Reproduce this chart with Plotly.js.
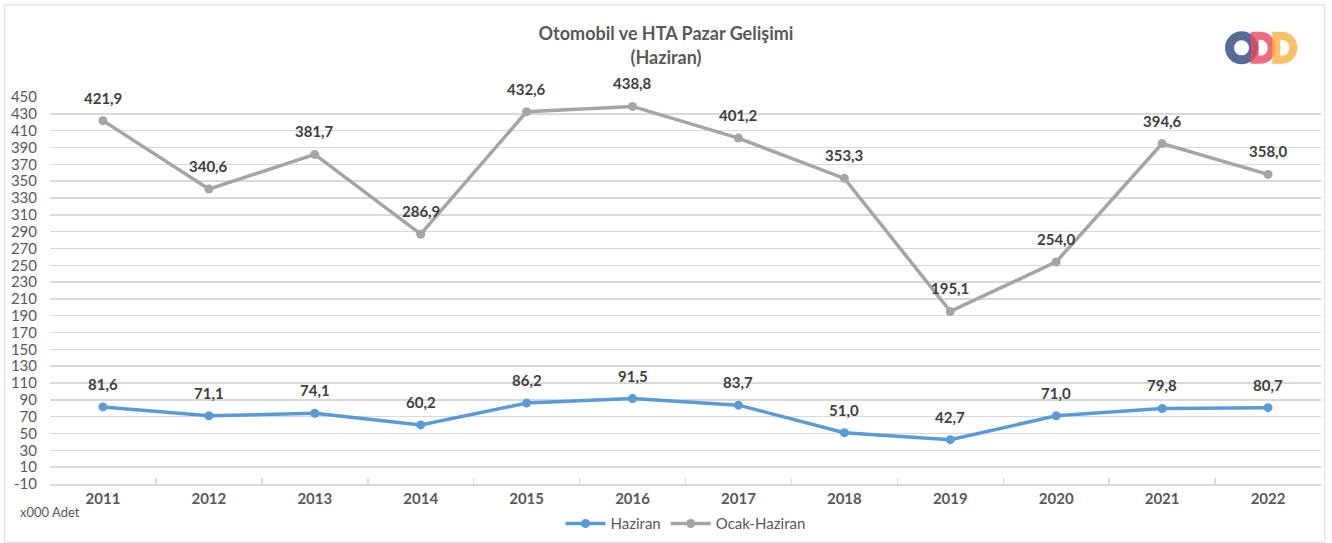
<!DOCTYPE html>
<html><head><meta charset="utf-8">
<script src="https://cdn.plot.ly/plotly-3.0.1.min.js"></script>
<style>html,body{margin:0;padding:0;background:#fff}#chart{width:1332px;height:543px}</style>
</head><body><div id="chart"></div>
<script>
const years = ['2011','2012','2013','2014','2015','2016','2017','2018','2019','2020','2021','2022'];
const haziran = [81.6, 71.1, 74.1, 60.2, 86.2, 91.5, 83.7, 51.0, 42.7, 71.0, 79.8, 80.7];
const ocakHaziran = [421.9, 340.6, 381.7, 286.9, 432.6, 438.8, 401.2, 353.3, 195.1, 254.0, 394.6, 358.0];
const yTicks = [-10,10,30,50,70,90,110,130,150,170,190,210,230,250,270,290,310,330,350,370,390,410,430,450];

const fontFam = 'Lato, "DejaVu Sans", sans-serif';
const fmt = v => v.toFixed(1).replace('.', ',');

const traces = [
  {x: years, y: haziran, name: 'Haziran', type: 'scatter', mode: 'lines+markers',
   line: {color: '#5b9bd5', width: 3.5}, marker: {color: '#5b9bd5', size: 9}},
  {x: years, y: ocakHaziran, name: 'Ocak-Haziran', type: 'scatter', mode: 'lines+markers',
   line: {color: '#a5a5a5', width: 3.5}, marker: {color: '#a5a5a5', size: 9}}
];

const annotations = [];
[haziran, ocakHaziran].forEach(arr => arr.forEach((v, i) => {
  annotations.push({x: i, y: v, xref: 'x', yref: 'y', text: fmt(v), showarrow: false,
    yshift: 23, font: {family: fontFam, size: 15, color: '#404040', weight: 'bold'}});
}));
annotations.push({x: -0.025, y: -0.072, xref: 'paper', yref: 'paper', xanchor: 'left', yanchor: 'middle',
  text: 'x000 Adet', showarrow: false, font: {family: fontFam, size: 13, color: '#595959'}});

const dPath = 'M -4,-12 L 1,-12 C 17,-12 17,12 1,12 L -4,12 Z';
const shapes = [
  {type: 'rect', xref: 'paper', yref: 'paper', x0: -0.036, x1: 1.003, y0: -0.15, y1: 1.238,
   line: {color: '#d9d9d9', width: 1}, fillcolor: 'rgba(0,0,0,0)', layer: 'below'},
  {type: 'circle', xref: 'paper', yref: 'paper', xsizemode: 'pixel', ysizemode: 'pixel',
   xanchor: 0.9375, yanchor: 1.127, x0: -12, x1: 12, y0: -12, y1: 12,
   line: {color: 'rgba(60,80,135,0.85)', width: 9}, fillcolor: 'rgba(0,0,0,0)'},
  {type: 'path', xref: 'paper', yref: 'paper', xsizemode: 'pixel', ysizemode: 'pixel',
   xanchor: 0.951, yanchor: 1.127, path: dPath,
   line: {color: 'rgba(232,72,90,0.8)', width: 8}, fillcolor: 'rgba(0,0,0,0)'},
  {type: 'path', xref: 'paper', yref: 'paper', xsizemode: 'pixel', ysizemode: 'pixel',
   xanchor: 0.968, yanchor: 1.127, path: dPath,
   line: {color: 'rgba(251,176,64,0.8)', width: 8}, fillcolor: 'rgba(0,0,0,0)'}
];

const layout = {
  width: 1332, height: 543,
  paper_bgcolor: '#ffffff', plot_bgcolor: '#ffffff',
  margin: {l: 50, r: 11, t: 97, b: 59, autoexpand: false},
  title: {text: '<b>Otomobil ve HTA Pazar Gelişimi<br>(Haziran)</b>', x: 0.5, xanchor: 'center',
    y: 0.926, yanchor: 'top', font: {family: fontFam, size: 18, color: '#595959'}},
  showlegend: true,
  legend: {orientation: 'h', x: 0.5, xanchor: 'center', y: -0.06, yanchor: 'top',
    font: {family: fontFam, size: 15, color: '#595959'}, itemwidth: 40},
  xaxis: {type: 'category', range: [-0.5, 11.5], showgrid: false, showline: true, linecolor: '#d9d9d9', linewidth: 1.5,
    ticks: 'inside', tickson: 'boundaries', ticklen: 6, tickcolor: '#d9d9d9', tickwidth: 1.5, tickangle: 0,
    tickfont: {family: fontFam, size: 15, color: '#595959', weight: 'bold'}, fixedrange: true},
  yaxis: {range: [-10, 450], tickvals: yTicks, ticktext: yTicks.map(String), showgrid: true,
    gridcolor: '#d9d9d9', gridwidth: 1.5, zeroline: false, showline: false,
    ticklabelstandoff: 12,
    tickfont: {family: fontFam, size: 15, color: '#595959'}, fixedrange: true},
  annotations: annotations,
  shapes: shapes
};

Plotly.newPlot('chart', traces, layout, {displayModeBar: false, staticPlot: true});
</script>
</body></html>
